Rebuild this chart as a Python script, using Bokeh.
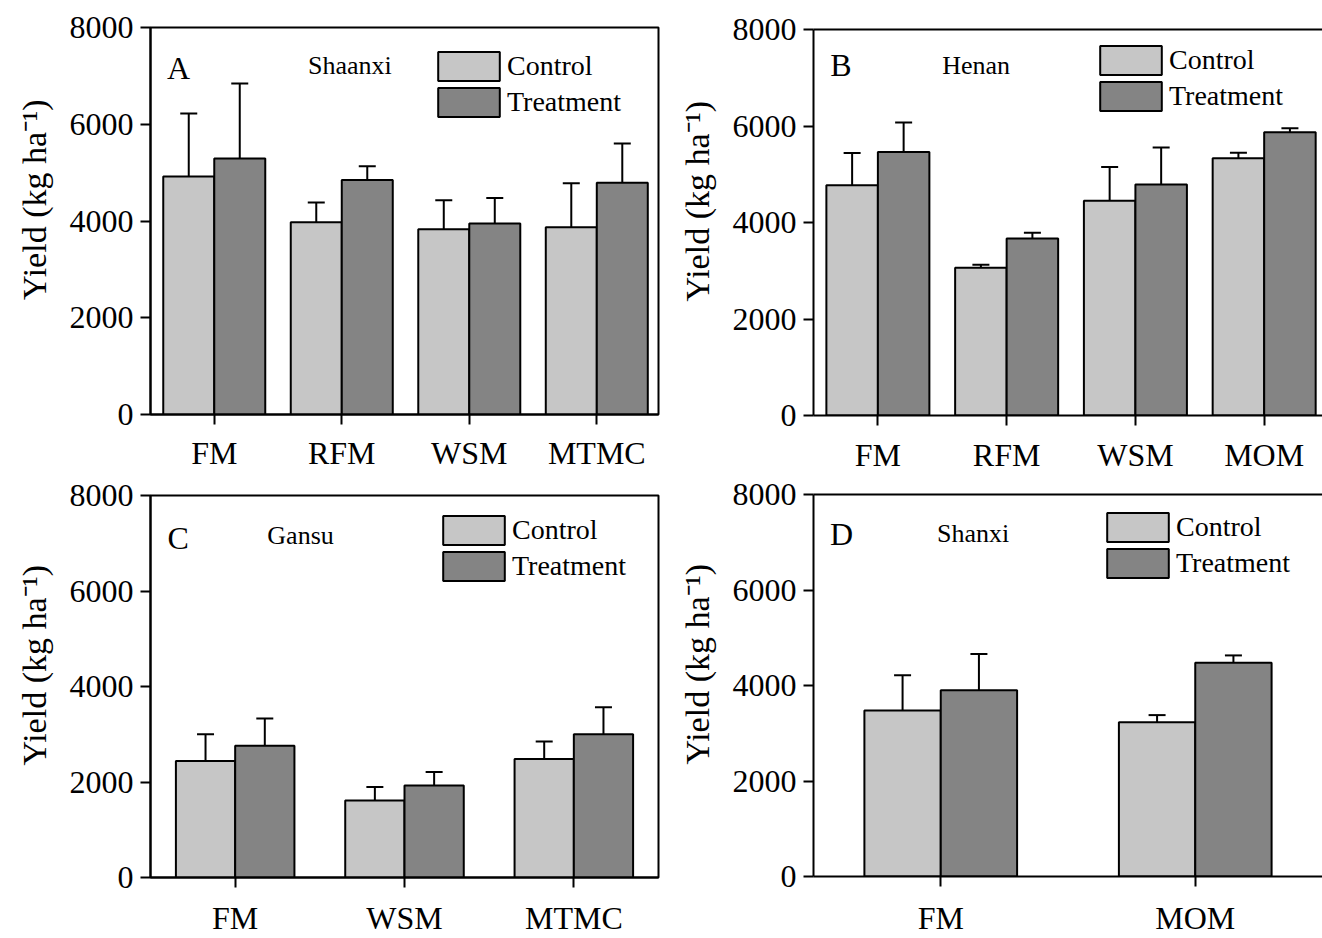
from bokeh.plotting import figure
from bokeh.layouts import row, column
from bokeh.models import (Range1d, FixedTicker, LinearAxis, Whisker, ColumnDataSource,
                          Label, Legend, TeeHead)
from bokeh.embed import file_html
from bokeh.resources import INLINE

FONT = "Liberation Serif"
CONTROL_COLOR = "#c6c6c6"
TREAT_COLOR = "#848484"

# ---------------- data ----------------
y_ticks = [0, 2000, 4000, 6000, 8000]
series_names = ["Control", "Treatment"]
y_label = "Yield (kg ha\u207b\u00b9)"

# Panel A - Shaanxi
a_categories = ["FM", "RFM", "WSM", "MTMC"]
a_control = [4920, 3975, 3830, 3870]
a_control_err = [1300, 410, 600, 910]
a_treatment = [5290, 4845, 3950, 4790]
a_treatment_err = [1550, 285, 525, 810]

# Panel B - Henan
b_categories = ["FM", "RFM", "WSM", "MOM"]
b_control = [4770, 3060, 4450, 5330]
b_control_err = [670, 65, 700, 115]
b_treatment = [5460, 3670, 4790, 5870]
b_treatment_err = [610, 115, 765, 85]

# Panel C - Gansu
c_categories = ["FM", "WSM", "MTMC"]
c_control = [2440, 1610, 2480]
c_control_err = [560, 285, 370]
c_treatment = [2760, 1925, 3000]
c_treatment_err = [570, 285, 565]

# Panel D - Shanxi
d_categories = ["FM", "MOM"]
d_control = [3475, 3230]
d_control_err = [740, 150]
d_treatment = [3900, 4475]
d_treatment_err = [760, 155]


def make_panel(cats, ctrl, ctrl_err, trt, trt_err, letter, region, width, height,
               borders, x_end, bar_w, letter_pos, region_pos, legend_loc, x_standoff,
               closed_right):
    left, right, top, bottom = borders
    p = figure(width=width, height=height, output_backend="svg", toolbar_location=None,
               x_range=Range1d(0.5, x_end), y_range=Range1d(0, 8000),
               min_border_left=left, min_border_right=right,
               min_border_top=top, min_border_bottom=bottom)
    p.grid.visible = False
    p.background_fill_color = "white"
    p.border_fill_color = "white"

    centers = list(range(1, len(cats) + 1))
    src_c = ColumnDataSource(dict(x=[c - bar_w / 2 for c in centers], top=ctrl,
                                  upper=[v + e for v, e in zip(ctrl, ctrl_err)]))
    src_t = ColumnDataSource(dict(x=[c + bar_w / 2 for c in centers], top=trt,
                                  upper=[v + e for v, e in zip(trt, trt_err)]))

    for src in (src_c, src_t):
        p.add_layout(Whisker(base="x", lower="top", upper="upper", source=src,
                             dimension="height", line_color="black", line_width=2,
                             upper_head=TeeHead(size=17, line_width=2, line_color="black"),
                             lower_head=None, level="overlay"))

    rc = p.vbar(x="x", top="top", bottom=0, width=bar_w, source=src_c,
                fill_color=CONTROL_COLOR, line_color="black", line_width=2)
    rt = p.vbar(x="x", top="top", bottom=0, width=bar_w, source=src_t,
                fill_color=TREAT_COLOR, line_color="black", line_width=2)

    xa = p.xaxis[0]
    ya = p.yaxis[0]
    for ax in (xa, ya):
        ax.major_label_text_font = FONT
        ax.major_label_text_font_size = "32px"
        ax.major_label_text_color = "black"
        ax.axis_line_width = 2
        ax.axis_line_color = "black"
        ax.major_tick_line_width = 2
        ax.major_tick_line_color = "black"
        ax.major_tick_out = 10
        ax.major_tick_in = 0
        ax.minor_tick_line_color = None
    xa.ticker = FixedTicker(ticks=centers)
    xa.major_label_overrides = {c: n for c, n in zip(centers, cats)}
    xa.major_label_standoff = x_standoff
    ya.ticker = FixedTicker(ticks=y_ticks)
    ya.major_label_standoff = 7
    ya.axis_label = "\u00a0" * 5 + y_label
    ya.axis_label_text_font = FONT
    ya.axis_label_text_font_size = "34px"
    ya.axis_label_text_font_style = "normal"
    ya.axis_label_text_color = "black"
    ya.axis_label_standoff = 14

    if closed_right:
        p.outline_line_color = "black"
        p.outline_line_width = 2
        p.outline_line_alpha = 1
    else:
        p.outline_line_color = None
        top_axis = LinearAxis(ticker=FixedTicker(ticks=[]), axis_line_width=2,
                              axis_line_color="black", major_tick_line_color=None,
                              minor_tick_line_color=None, major_label_text_font_size="0px")
        p.add_layout(top_axis, "above")

    legend = Legend(items=[(series_names[0], [rc]), (series_names[1], [rt])],
                    location=legend_loc, glyph_width=77, glyph_height=36,
                    label_text_font=FONT, label_text_font_size="28px",
                    label_text_color="black", label_standoff=0, spacing=0,
                    padding=0, margin=0, border_line_color=None,
                    background_fill_alpha=0, label_height=30)
    p.add_layout(legend)

    p.add_layout(Label(x=letter_pos[0], y=letter_pos[1], text=letter, text_font=FONT,
                       text_font_size="32px", text_color="black",
                       text_baseline="alphabetic"))
    p.add_layout(Label(x=region_pos[0], y=region_pos[1], text=region, text_font=FONT,
                       text_font_size="26px", text_color="black",
                       text_baseline="alphabetic"))
    return p


pa = make_panel(a_categories, a_control, a_control_err, a_treatment, a_treatment_err,
                "A", "Shaanxi", 670, 473, (147, 9, 27, 59), 4.484, 0.4,
                (0.630, 7173), (1.735, 7215), (280, 294), 10, True)
pb = make_panel(b_categories, b_control, b_control_err, b_treatment, b_treatment_err,
                "B", "Henan", 652, 475, (142, 0, 29, 60), 4.453, 0.4,
                (0.630, 7254), (1.500, 7254), (279, 301), 11, False)
pc = make_panel(c_categories, c_control, c_control_err, c_treatment, c_treatment_err,
                "C", "Gansu", 670, 465, (150, 12, 22, 61), 3.5, 0.35,
                (0.600, 7120), (1.190, 7162), (285, 293), 12, True)
pd_ = make_panel(d_categories, d_control, d_control_err, d_treatment, d_treatment_err,
                 "D", "Shanxi", 652, 463, (143, 0, 19, 62), 2.5, 0.3,
                 (0.565, 7183), (0.985, 7183), (286, 295), 13, False)

layout = row(column(pa, pc), column(pb, pd_))
open("out.html", "w").write(file_html(layout, INLINE))
